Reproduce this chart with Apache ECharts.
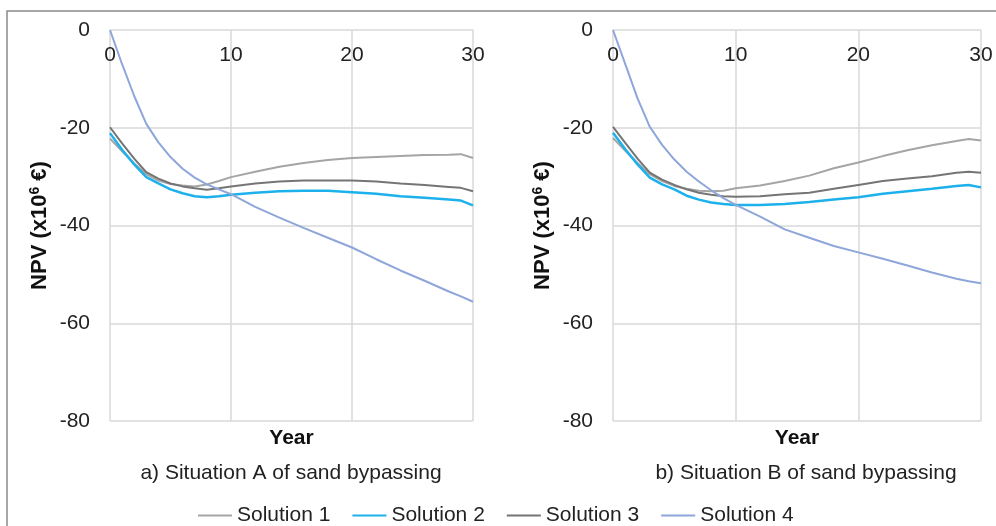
<!DOCTYPE html>
<html>
<head>
<meta charset="utf-8">
<script src="https://cdn.jsdelivr.net/npm/echarts@6/dist/echarts.min.js"></script>
<style>
  html, body { margin: 0; padding: 0; background: #fff; }
  #main { width: 996px; height: 526px; }
</style>
</head>
<body>
<div id="main"></div>
<script>
var years = [0, 1, 2, 3, 4, 5, 6, 7, 8, 9, 10, 12, 14, 16, 18, 20, 22, 24, 26, 28, 29, 30];
var seriesNames = ['Solution 1', 'Solution 2', 'Solution 3', 'Solution 4'];
var yTicks = [0, -20, -40, -60, -80];

// Situation A
var a_sol1 = [-22.2, -24.8, -27.3, -29.5, -30.8, -31.5, -31.8, -32.0, -31.6, -30.9, -30.1, -29.0, -28.0, -27.2, -26.6, -26.2, -26.0, -25.8, -25.6, -25.5, -25.4, -26.2];
var a_sol2 = [-21.1, -24.5, -27.5, -30.1, -31.4, -32.6, -33.4, -34.0, -34.2, -34.0, -33.7, -33.3, -33.0, -32.9, -32.9, -33.2, -33.5, -34.0, -34.3, -34.7, -34.9, -35.9];
var a_sol3 = [-19.9, -23.2, -26.3, -29.1, -30.4, -31.4, -32.0, -32.4, -32.7, -32.4, -32.0, -31.4, -31.0, -30.8, -30.8, -30.8, -31.0, -31.4, -31.7, -32.1, -32.3, -33.0];
var a_sol4 = [0, -7.0, -13.5, -19.2, -23.0, -26.0, -28.4, -30.2, -31.6, -32.6, -33.6, -36.2, -38.4, -40.5, -42.5, -44.5, -46.9, -49.2, -51.3, -53.5, -54.5, -55.6];

// Situation B
var b_sol1 = [-22.1, -24.7, -27.2, -29.5, -30.9, -31.9, -32.5, -32.9, -33.0, -32.9, -32.4, -31.8, -30.9, -29.8, -28.3, -27.1, -25.8, -24.6, -23.6, -22.7, -22.3, -22.6];
var b_sol2 = [-21.0, -24.4, -27.5, -30.2, -31.6, -32.6, -33.9, -34.7, -35.3, -35.6, -35.8, -35.8, -35.6, -35.2, -34.7, -34.2, -33.5, -33.0, -32.5, -31.9, -31.7, -32.2];
var b_sol3 = [-19.8, -23.1, -26.3, -29.2, -30.6, -31.7, -32.6, -33.3, -33.7, -34.0, -34.1, -34.0, -33.6, -33.3, -32.5, -31.7, -30.9, -30.4, -29.9, -29.2, -29.0, -29.2];
var b_sol4 = [0, -7.0, -14.0, -19.8, -23.5, -26.5, -29.0, -31.0, -32.8, -34.4, -35.8, -38.2, -40.8, -42.5, -44.2, -45.5, -46.8, -48.2, -49.6, -50.9, -51.4, -51.8];

var colors = ['#A5A5A5', '#1DB1EC', '#757575', '#8EA6DA'];
var widths = [2, 2.5, 2, 2];

function pairs(vals) {
  return years.map(function (y, i) { return [y, vals[i]]; });
}

var panels = [
  { left: 110, width: 363, data: [a_sol1, a_sol2, a_sol3, a_sol4], sub: 'a) Situation A of sand bypassing', subX: 291 },
  { left: 613, width: 368, data: [b_sol1, b_sol2, b_sol3, b_sol4], sub: 'b) Situation B of sand bypassing', subX: 806 }
];

var font = 'Liberation Sans, Arial, sans-serif';
var grids = [], xAxes = [], yAxes = [], series = [], graphics = [];

panels.forEach(function (p, k) {
  grids.push({ left: p.left, width: p.width, top: 30, height: 391 });
  xAxes.push({
    gridIndex: k, type: 'value', position: 'top', min: 0, max: 30, interval: 10,
    axisLine: { show: false },
    axisTick: { show: false },
    axisLabel: { inside: true, margin: 15, fontSize: 21, color: '#222', fontFamily: font },
    splitLine: { lineStyle: { color: '#d9d9d9', width: 1.5 } }
  });
  yAxes.push({
    gridIndex: k, type: 'value', min: yTicks[yTicks.length - 1], max: yTicks[0], interval: 20,
    axisLine: { show: false },
    axisTick: { show: false },
    axisLabel: { margin: 20, fontSize: 21, color: '#222', fontFamily: font },
    splitLine: { lineStyle: { color: '#d9d9d9', width: 1.5 } },
    name: 'NPV (x10{sup|6} €)',
    nameLocation: 'middle',
    nameGap: 59,
    nameTextStyle: {
      fontSize: 22, fontWeight: 'bold', color: '#111', fontFamily: font,
      rich: { sup: { fontSize: 14, fontWeight: 'bold', color: '#111', verticalAlign: 'top', padding: [0, 0, 9, 0] } }
    }
  });
  p.data.forEach(function (vals, i) {
    series.push({
      name: seriesNames[i], type: 'line', xAxisIndex: k, yAxisIndex: k,
      data: pairs(vals), showSymbol: false, smooth: false,
      lineStyle: { color: colors[i], width: widths[i] },
      itemStyle: { color: colors[i] }, z: 3
    });
  });
  graphics.push({
    type: 'text', x: p.left + p.width / 2, y: 438,
    style: { text: 'Year', font: 'bold 21px ' + font, fill: '#111', align: 'center', verticalAlign: 'middle' }
  });
  graphics.push({
    type: 'text', x: p.subX, y: 473,
    style: { text: p.sub, font: '21px ' + font, fill: '#222', align: 'center', verticalAlign: 'middle' }
  });
});

graphics.push({
  type: 'polyline',
  shape: { points: [[7, 526], [7, 11], [996, 11]] },
  style: { stroke: '#8a8a8a', lineWidth: 1.5, fill: null }
});

var myChart = echarts.init(document.getElementById('main'));
var option = {
  animation: false,
  grid: grids,
  xAxis: xAxes,
  yAxis: yAxes,
  legend: {
    data: seriesNames,
    left: 193,
    top: 500,
    icon: 'rect',
    itemWidth: 34,
    itemHeight: 2,
    itemGap: 22,
    textStyle: { fontSize: 21, color: '#222', fontFamily: font }
  },
  graphic: graphics,
  series: series
};
option && myChart.setOption(option);
</script>
</body>
</html>
